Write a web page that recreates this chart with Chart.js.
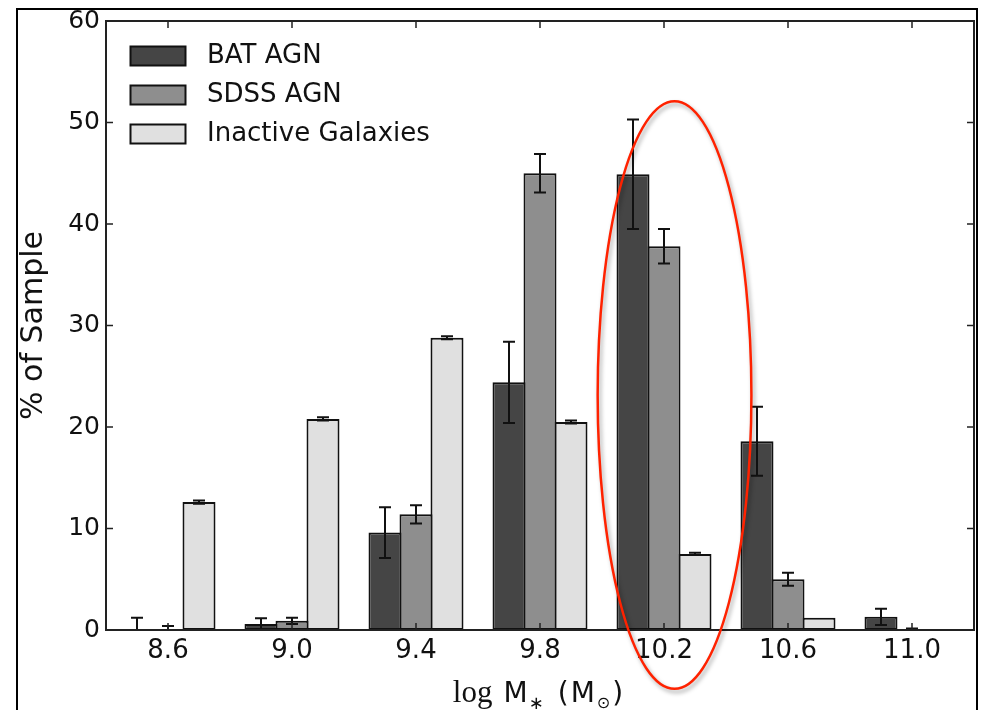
<!DOCTYPE html>
<html>
<head>
<meta charset="utf-8">
<script src="https://cdn.jsdelivr.net/npm/chart.js@4.4.1/dist/chart.umd.min.js"></script>
<style>
  html, body { margin: 0; padding: 0; background: #fff; overflow: hidden; }
  #wrap { position: relative; width: 982px; height: 710px; }
  #frame {
    position: absolute; left: 16px; top: 8px; width: 962px; height: 720px;
    border: 2px solid #000; box-sizing: border-box; pointer-events: none;
  }
</style>
</head>
<body>
<div id="wrap">
  <canvas id="massChart" width="982" height="710"></canvas>
  <div id="frame"></div>
</div>
<script>
// stellar mass bins (log M*)
const massBins = ["8.6", "9.0", "9.4", "9.8", "10.2", "10.6", "11.0"];

// percentage of each sample per bin, with 1-sigma errors
const batAgn = [0, 0.6, 9.6, 24.4, 44.9, 18.6, 1.3];
const batAgnErr = [1.2, 0.55, 2.5, 4.0, 5.4, 3.4, 0.8];

const sdssAgn = [0, 0.9, 11.4, 45.0, 37.8, 5.0, 0];
const sdssAgnErr = [0.4, 0.3, 0.9, 1.9, 1.7, 0.65, 0.15];

const inactive = [12.6, 20.8, 28.8, 20.5, 7.5, 1.2, 0];
const inactiveErr = [0.15, 0.15, 0.15, 0.15, 0.1, 0, 0];

// highlighted bin (in data units: category index / percent)
const ring = { x: 4.085, rx: 0.62, yTop: 52.1, yBottom: -5.8 };

const FONT = "'DejaVu Sans', sans-serif";

// error bars on top of every bar
const errorBars = {
  id: "errorBars",
  afterDatasetsDraw(chart) {
    const { ctx, chartArea, scales: { y } } = chart;
    ctx.save();
    ctx.beginPath();
    ctx.rect(chartArea.left, chartArea.top, chartArea.right - chartArea.left, chartArea.bottom - chartArea.top);
    ctx.clip();
    ctx.strokeStyle = "#111";
    ctx.lineWidth = 2;
    chart.data.datasets.forEach((ds, i) => {
      chart.getDatasetMeta(i).data.forEach((bar, j) => {
        const e = ds.errors[j];
        if (!e) return;
        const top = y.getPixelForValue(ds.data[j] + e);
        const bot = y.getPixelForValue(ds.data[j] - e);
        const x = bar.x, cap = 6;
        ctx.beginPath();
        ctx.moveTo(x, top); ctx.lineTo(x, bot);
        ctx.moveTo(x - cap, top); ctx.lineTo(x + cap, top);
        ctx.moveTo(x - cap, bot); ctx.lineTo(x + cap, bot);
        ctx.stroke();
      });
    });
    ctx.restore();
  }
};

// boxed axes with inward ticks, legend, x title and the red ring
const decorations = {
  id: "decorations",
  afterDraw(chart) {
    const { ctx, chartArea: a, scales: { x, y } } = chart;
    ctx.save();

    // inward ticks on all four sides
    ctx.strokeStyle = "#222";
    ctx.lineWidth = 1.5;
    ctx.beginPath();
    x.ticks.forEach((t, i) => {
      const px = x.getPixelForTick(i);
      ctx.moveTo(px, a.bottom); ctx.lineTo(px, a.bottom - 7);
      ctx.moveTo(px, a.top); ctx.lineTo(px, a.top + 7);
    });
    y.ticks.forEach((t, i) => {
      const py = y.getPixelForTick(i);
      ctx.moveTo(a.left, py); ctx.lineTo(a.left + 7, py);
      ctx.moveTo(a.right, py); ctx.lineTo(a.right - 7, py);
    });
    ctx.stroke();

    // axes box
    ctx.lineWidth = 2;
    ctx.strokeRect(a.left, a.top, a.right - a.left, a.bottom - a.top);

    // legend
    ctx.font = "26px " + FONT;
    ctx.textBaseline = "middle";
    ctx.textAlign = "left";
    chart.data.datasets.forEach((ds, i) => {
      const by = 46.5 + i * 39;
      ctx.fillStyle = ds.backgroundColor;
      ctx.fillRect(130.5, by, 55, 19);
      ctx.strokeStyle = "#111";
      ctx.lineWidth = 2;
      ctx.strokeRect(130.5, by, 55, 19);
      ctx.fillStyle = "#111";
      ctx.fillText(ds.label, 207, by + 10);
    });

    // x axis title: log M_* (M_sun)
    const parts = [
      { t: "log", f: "31px 'Liberation Serif', serif", dy: 0, gap: 11 },
      { t: "M", f: "28px " + FONT, dy: 0, gap: 1 },
      { t: "\u2217", f: "18px " + FONT, dy: 7, gap: 14 },
      { t: "(", f: "28px " + FONT, dy: 0, gap: 2 },
      { t: "M", f: "28px " + FONT, dy: 0, gap: 2 },
      { t: "\u2299", f: "16px " + FONT, dy: 6, gap: 2 },
      { t: ")", f: "28px " + FONT, dy: 0, gap: 0 }
    ];
    let total = 0;
    parts.forEach(p => { ctx.font = p.f; p.w = ctx.measureText(p.t).width; total += p.w + p.gap; });
    let cx = (a.left + a.right) / 2 - total / 2 - 2;
    ctx.textBaseline = "alphabetic";
    parts.forEach(p => {
      ctx.font = p.f;
      ctx.fillText(p.t, cx, 702 + p.dy);
      cx += p.w + p.gap;
    });

    // red ring around the 10.2 bin
    const cxr = x.getPixelForValue(ring.x);
    const rx = x.getPixelForValue(ring.x + ring.rx) - cxr;
    const yt = y.getPixelForValue(ring.yTop), yb = y.getPixelForValue(ring.yBottom);
    ctx.shadowColor = "rgba(0,0,0,0.35)";
    ctx.shadowBlur = 4;
    ctx.shadowOffsetX = 2;
    ctx.shadowOffsetY = 3;
    ctx.strokeStyle = "#ff2200";
    ctx.lineWidth = 2.5;
    ctx.beginPath();
    ctx.ellipse(cxr, (yt + yb) / 2, rx, (yb - yt) / 2, 0, 0, Math.PI * 2);
    ctx.stroke();

    ctx.restore();
  }
};

const bar = (label, data, errors, color) => ({
  label, data, errors,
  backgroundColor: color,
  borderColor: "#111",
  borderWidth: 2,
  borderSkipped: false,
  categoryPercentage: 0.75,
  barPercentage: 1.065
});

new Chart(document.getElementById("massChart"), {
  type: "bar",
  data: {
    labels: massBins,
    datasets: [
      bar("BAT AGN", batAgn, batAgnErr, "#454545"),
      bar("SDSS AGN", sdssAgn, sdssAgnErr, "#8e8e8e"),
      bar("Inactive Galaxies", inactive, inactiveErr, "#e0e0e0")
    ]
  },
  options: {
    responsive: false,
    animation: false,
    layout: { padding: { top: 21, right: 8, left: 0, bottom: 0 } },
    plugins: {
      legend: { display: false },
      tooltip: { enabled: false }
    },
    scales: {
      x: {
        grid: { display: false, drawTicks: false },
        border: { display: false },
        ticks: { color: "#111", font: { family: FONT, size: 26 }, padding: 6 },
        afterFit: s => { s.height = 80; }
      },
      y: {
        min: 0, max: 60,
        grid: { display: false, drawTicks: false },
        border: { display: false },
        ticks: { stepSize: 10, color: "#111", font: { family: FONT, size: 25 }, padding: 6 },
        title: {
          display: true, text: "% of Sample", color: "#111",
          font: { family: FONT, size: 30 }, padding: { top: 16, bottom: 0 }
        },
        afterFit: s => { s.width = 106; }
      }
    }
  },
  plugins: [errorBars, decorations]
});
</script>
</body>
</html>
